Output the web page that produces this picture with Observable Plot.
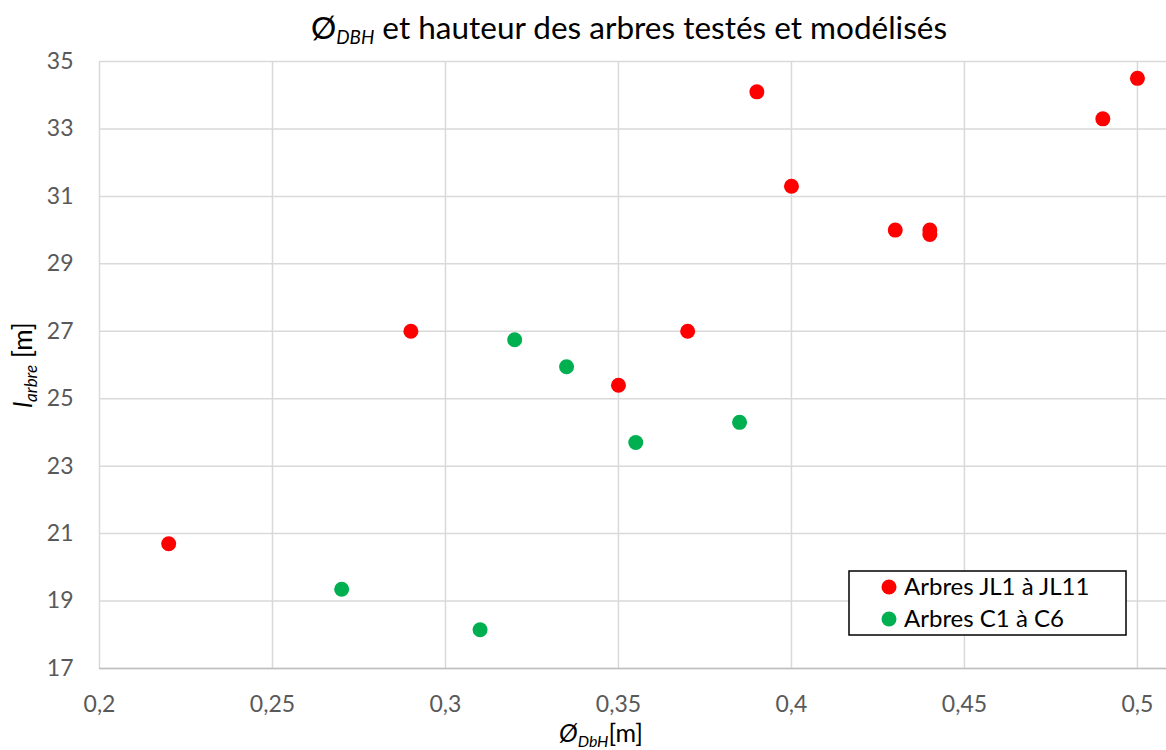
<!DOCTYPE html>
<html><head><meta charset="utf-8">
<script src="https://cdn.jsdelivr.net/npm/d3@7"></script>
<script src="https://cdn.jsdelivr.net/npm/@observablehq/plot@0.6"></script>
<style>
body{margin:0;background:#fff;font-family:Lato,sans-serif;}
#title{position:relative;height:50px;width:1166px;}
#title div{position:absolute;left:92px;right:0;top:0;text-align:center;font-size:31.5px;line-height:54px;color:#000;white-space:nowrap;}
#title sub{font-style:italic;font-size:0.6em;vertical-align:-0.25em;}
</style></head><body>
<div id="title"><div>Ø<sub>DBH</sub> et hauteur des arbres testés et modélisés</div></div>
<div id="chart"></div>
<script>
// ---- data ----
const seriesNames = ["Arbres JL1 à JL11", "Arbres C1 à C6"];
const seriesColors = ["#FF0000", "#00B050"];
const jlDiameter = [0.22, 0.29, 0.35, 0.37, 0.39, 0.40, 0.43, 0.44, 0.44, 0.49, 0.50];
const jlHeight   = [20.7, 27.0, 25.4, 27.0, 34.1, 31.3, 30.0, 30.0, 29.87, 33.3, 34.5];
const cDiameter  = [0.27, 0.31, 0.32, 0.335, 0.355, 0.385];
const cHeight    = [19.35, 18.15, 26.75, 25.95, 23.7, 24.3];
const xTicks = [0.2, 0.25, 0.3, 0.35, 0.4, 0.45, 0.5];
const yTicks = [17, 19, 21, 23, 25, 27, 29, 31, 33, 35];

const data = [
  ...jlDiameter.map((d, i) => ({x: d, y: jlHeight[i], series: seriesNames[0]})),
  ...cDiameter.map((d, i) => ({x: d, y: cHeight[i], series: seriesNames[1]}))
];

const fmt = d => String(d).replace(".", ",");
const grid = "#d9d9d9";

const plot = Plot.plot({
  width: 1166, height: 700,
  marginTop: 11, marginLeft: 99, marginRight: 0, marginBottom: 82,
  style: {fontFamily: "Lato, sans-serif", fontSize: "23px", color: "#595959", background: "#fff", overflow: "visible"},
  x: {domain: [0.2, 0.5084], label: null},
  y: {domain: [17, 35], label: null},
  color: {domain: seriesNames, range: seriesColors},
  marks: [
    Plot.gridX(xTicks, {stroke: grid, strokeOpacity: 1, strokeWidth: 1.5}),
    Plot.gridY(yTicks, {stroke: grid, strokeOpacity: 1, strokeWidth: 1.5}),
    Plot.ruleY([17], {stroke: "#bfbfbf", strokeWidth: 1.5}),
    Plot.axisX(xTicks, {tickSize: 0, tickPadding: 27, tickFormat: fmt, label: null, fill: "#595959"}),
    Plot.axisY(yTicks, {tickSize: 0, tickPadding: 26, label: null, fill: "#595959"}),
    Plot.dot(data, {x: "x", y: "y", fill: "series", r: 7.5, stroke: "none"})
  ]
});
document.getElementById("chart").appendChild(plot);

const svg = d3.select(plot);
// y axis title
const yl = svg.append("text")
  .attr("transform", "translate(32,315) rotate(-90)")
  .attr("text-anchor", "middle")
  .style("font-family", "Lato, sans-serif").style("font-size", "26px").attr("fill", "#000");
yl.append("tspan").style("font-style", "italic").text("l");
yl.append("tspan").style("font-style", "italic").style("font-size", "17px").attr("dy", "5").text("arbre");
yl.append("tspan").attr("dy", "-5").text(" [m]");
// x axis title
const xl = svg.append("text")
  .attr("x", 601).attr("y", 692)
  .attr("text-anchor", "middle")
  .style("font-family", "Lato, sans-serif").style("font-size", "25px").attr("fill", "#000");
xl.append("tspan").style("font-style", "italic").text("Ø");
xl.append("tspan").style("font-style", "italic").style("font-size", "16px").attr("dy", "5").text("DbH");
xl.append("tspan").attr("dy", "-5").text("[m]");
// legend
const lg = svg.append("g").attr("text-anchor", "start");
lg.append("rect").attr("x", 849).attr("y", 521).attr("width", 277).attr("height", 64)
  .attr("fill", "#fff").attr("stroke", "#000").attr("stroke-width", 1.5);
seriesNames.forEach((name, i) => {
  lg.append("circle").attr("cx", 889).attr("cy", 537 + i * 32).attr("r", 7.5).attr("fill", seriesColors[i]);
  lg.append("text").attr("x", 904).attr("y", 537 + i * 32).attr("dy", "0.35em").attr("text-anchor", "start")
    .style("font-family", "Lato, sans-serif").style("font-size", "24px").attr("fill", "#000").text(name);
});
</script>
</body></html>
